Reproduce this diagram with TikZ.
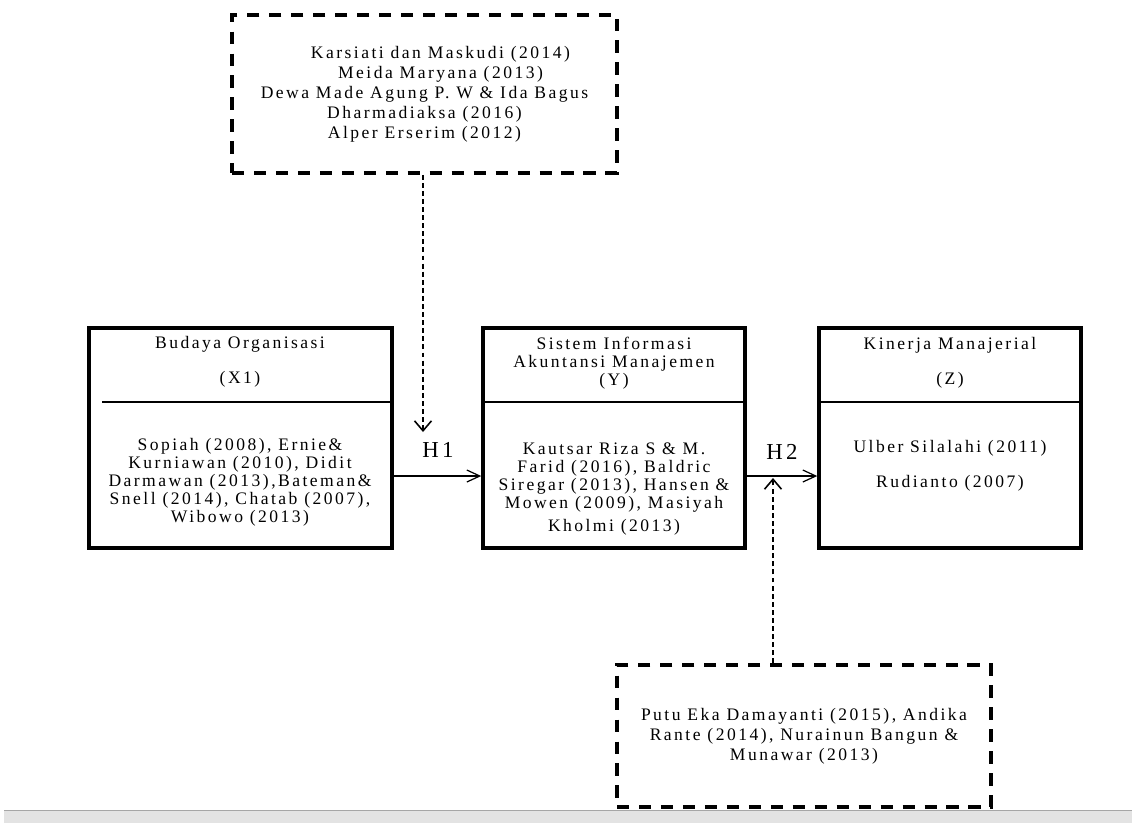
\documentclass[tikz,border=0pt]{standalone}
\usepackage{fontspec}
\setmainfont{Liberation Serif}[LetterSpace=14]
\usetikzlibrary{arrows.meta}

\begin{document}
\begin{tikzpicture}[
    x=0.02cm, y=-0.02cm,
    varbox/.style = {draw=black, line width=2pt, minimum width=#1, minimum height=4.4cm, inner sep=0pt},
    refbox/.style = {draw=black, line width=2pt, dash pattern=on 7pt off 5.5pt, align=center, inner sep=0pt,
                     font=\fontsize{10}{11.4}\selectfont},
    txt/.style    = {align=center, inner sep=0pt, font=\fontsize{10}{10.2}\selectfont},
    rule/.style   = {line width=0.9pt},
    harrow/.style = {-{Straight Barb[length=2.6mm, width=2.4mm]}, line width=0.7pt},
    darrow/.style = {-{Straight Barb[length=2mm, width=3.4mm]}, line width=0.9pt, dash pattern=on 2.8pt off 1.8pt},
    hlabel/.style = {inner sep=0pt, font=\fontsize{13}{13}\selectfont}
]
\useasboundingbox (0,0) rectangle (1132,823);

% variable boxes
\node[varbox=6.06cm] (x1) at (240.5, 438) {};
\node[varbox=5.24cm] (y)  at (614, 438)   {};
\node[varbox=5.24cm] (z)  at (950, 438)   {};

% box headings and references
\node[txt] (x1title) at (240, 362) {Budaya Organisasi\\[9.9pt](X1)};
\node[txt] (x1body)  at (240, 482) {Sopiah (2008), Ernie\&\\Kurniawan (2010), Didit\\Darmawan (2013),Bateman\&\\Snell (2014), Chatab (2007),\\Wibowo (2013)};
\node[txt] (ytitle)  at (614, 363) {Sistem Informasi\\Akuntansi Manajemen\\(Y)};
\node[txt] (ybody)   at (614, 489) {Kautsar Riza S \& M.\\Farid (2016), Baldric\\Siregar (2013), Hansen \&\\Mowen (2009), Masiyah\\[3pt]Kholmi (2013)};
\node[txt] (ztitle)  at (950, 363) {Kinerja Manajerial\\[10pt](Z)};
\node[txt] (zbody)   at (950, 466) {Ulber Silalahi (2011)\\[10pt]Rudianto (2007)};

% dividers
\coordinate (x1div) at (102, 402);
\draw[rule] (x1div) -- (x1.east |- x1div);
\draw[rule] (y.west |- x1div) -- (y.east |- x1div);
\draw[rule] (z.west |- x1div) -- (z.east |- x1div);

% moderating references
\node[refbox, minimum width=7.7cm, minimum height=3.16cm] (topbox) at (424.5, 94)
    {\hspace*{0.64cm}Karsiati dan Maskudi (2014)\\\hspace*{0.64cm}Meida Maryana (2013)\\Dewa Made Agung P. W \& Ida Bagus\\Dharmadiaksa (2016)\\Alper Erserim (2012)};
\node[refbox, minimum width=7.48cm, minimum height=2.84cm] (botbox) at (804, 736)
    {Putu Eka Damayanti (2015), Andika\\Rante (2014), Nurainun Bangun \&\\Munawar (2013)};

% hypotheses
\coordinate (hrow) at (0, 476);
\draw[harrow] (x1.east |- hrow) -- (y.west |- hrow);
\draw[harrow] (y.east |- hrow) -- (z.west |- hrow);
\node[hlabel] (h1) at (438, 450) {H1};
\node[hlabel] (h2) at (782, 452) {H2};

% dashed links
\coordinate (h1tip) at (423, 432);
\coordinate (h2tip) at (773, 478);
\draw[darrow] (topbox.south -| h1tip) -- (h1tip);
\draw[darrow] (botbox.north -| h2tip) -- (h2tip);

% grey strip at the bottom
\fill[black!11] (4, 810) rectangle (1132, 823);
\draw[black!35, line width=1pt] (4, 810.5) -- (1132, 810.5);

\end{tikzpicture}
\end{document}
